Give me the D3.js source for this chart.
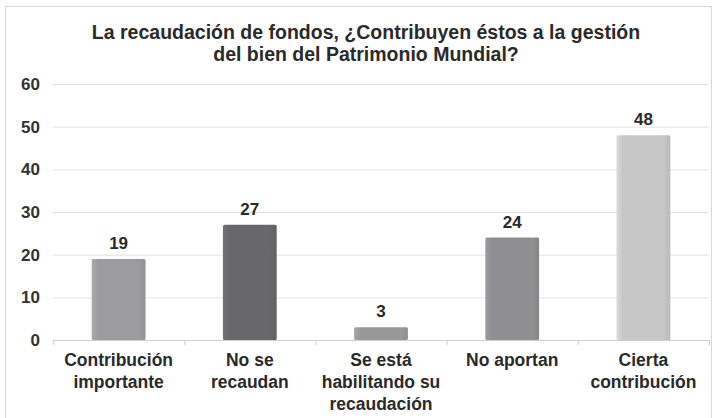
<!DOCTYPE html>
<html>
<head>
<meta charset="utf-8">
<script src="https://cdn.jsdelivr.net/npm/d3@7/dist/d3.min.js"></script>
<style>
  html, body { margin: 0; padding: 0; background: #fff; }
  svg { display: block; font-family: "Liberation Sans", Arial, sans-serif; }
</style>
</head>
<body>
<svg id="chart" width="716" height="418"></svg>
<script>
const categories = [
  ["Contribución", "importante"],
  ["No se", "recaudan"],
  ["Se está", "habilitando su", "recaudación"],
  ["No aportan"],
  ["Cierta", "contribución"]
];
const values = [19, 27, 3, 24, 48];
const barColors = ["#9c9c9e", "#68686a", "#98989a", "#8f8f91", "#c7c7c7"];
const yTicks = [0, 10, 20, 30, 40, 50, 60];
const titleLines = [
  "La recaudación de fondos, ¿Contribuyen éstos a la gestión",
  "del bien del Patrimonio Mundial?"
];

const svg = d3.select("#chart");
const plot = { left: 53, right: 709, top: 84, bottom: 340 };

// outer frame
svg.append("rect")
  .attr("x", 5.5).attr("y", 6.5)
  .attr("width", 706).attr("height", 420)
  .attr("fill", "#fff").attr("stroke", "#d9d9d9");

// title
svg.append("text")
  .attr("x", 366).attr("y", 39)
  .attr("text-anchor", "middle")
  .attr("font-size", 19.5).attr("font-weight", "bold").attr("fill", "#2a2a2a")
  .selectAll("tspan").data(titleLines).join("tspan")
  .attr("x", 366).attr("dy", (d, i) => i === 0 ? 0 : 22)
  .text(d => d);

const x = d3.scaleBand()
  .domain(d3.range(values.length))
  .range([plot.left, plot.right])
  .paddingInner(0.59).paddingOuter(0.295);
const y = d3.scaleLinear().domain([0, 60]).range([plot.bottom, plot.top]);

// gridlines
svg.append("g").selectAll("line").data(yTicks).join("line")
  .attr("x1", plot.left).attr("x2", plot.right)
  .attr("y1", d => y(d) + 0.5).attr("y2", d => y(d) + 0.5)
  .attr("stroke", d => d === 0 ? "#cfcfcf" : "#e2e2e2").attr("stroke-width", 1);

// y axis labels
const yAxis = d3.axisLeft(y).tickValues(yTicks).tickSize(0).tickPadding(0);
const gy = svg.append("g").attr("transform", "translate(40,0)").call(yAxis);
gy.select(".domain").remove();
gy.selectAll("text")
  .attr("font-size", 17).attr("font-weight", "bold").attr("fill", "#333")
  .attr("font-family", "Liberation Sans, Arial, sans-serif");

// category separators on baseline
const bandStep = x.step();
svg.append("g").selectAll("line").data(d3.range(values.length + 1)).join("line")
  .attr("x1", i => plot.left + i * bandStep + 0.5)
  .attr("x2", i => plot.left + i * bandStep + 0.5)
  .attr("y1", plot.bottom).attr("y2", plot.bottom + 5)
  .attr("stroke", "#cfcfcf");

// soft shading on bars
const defs = svg.append("defs");
barColors.forEach((c, i) => {
  const g = defs.append("linearGradient").attr("id", "bg" + i)
    .attr("x1", "0").attr("x2", "1").attr("y1", "0").attr("y2", "0");
  const base = d3.color(c);
  g.append("stop").attr("offset", "0%").attr("stop-color", base.brighter(0.25));
  g.append("stop").attr("offset", "12%").attr("stop-color", base);
  g.append("stop").attr("offset", "88%").attr("stop-color", base);
  g.append("stop").attr("offset", "100%").attr("stop-color", base.darker(0.2));
});

svg.append("g").selectAll("rect").data(values).join("rect")
  .attr("x", (d, i) => x(i))
  .attr("width", x.bandwidth())
  .attr("y", d => y(d))
  .attr("height", d => y(0) - y(d))
  .attr("rx", 1.5)
  .attr("fill", (d, i) => `url(#bg${i})`);

// value labels
svg.append("g").selectAll("text").data(values).join("text")
  .attr("x", (d, i) => x(i) + x.bandwidth() / 2)
  .attr("y", d => y(d) - 10)
  .attr("text-anchor", "middle")
  .attr("font-size", 17).attr("font-weight", "bold").attr("fill", "#2a2a2a")
  .text(d => d);

// category labels
const cat = svg.append("g").selectAll("text").data(categories).join("text")
  .attr("x", (d, i) => x(i) + x.bandwidth() / 2)
  .attr("y", 366)
  .attr("text-anchor", "middle")
  .attr("font-size", 17.5).attr("font-weight", "bold").attr("fill", "#2a2a2a");
cat.selectAll("tspan").data(d => d).join("tspan")
  .attr("x", function() { return this.parentNode.getAttribute("x"); })
  .attr("dy", (d, i) => i === 0 ? 0 : 22)
  .text(d => d);
</script>
</body>
</html>
